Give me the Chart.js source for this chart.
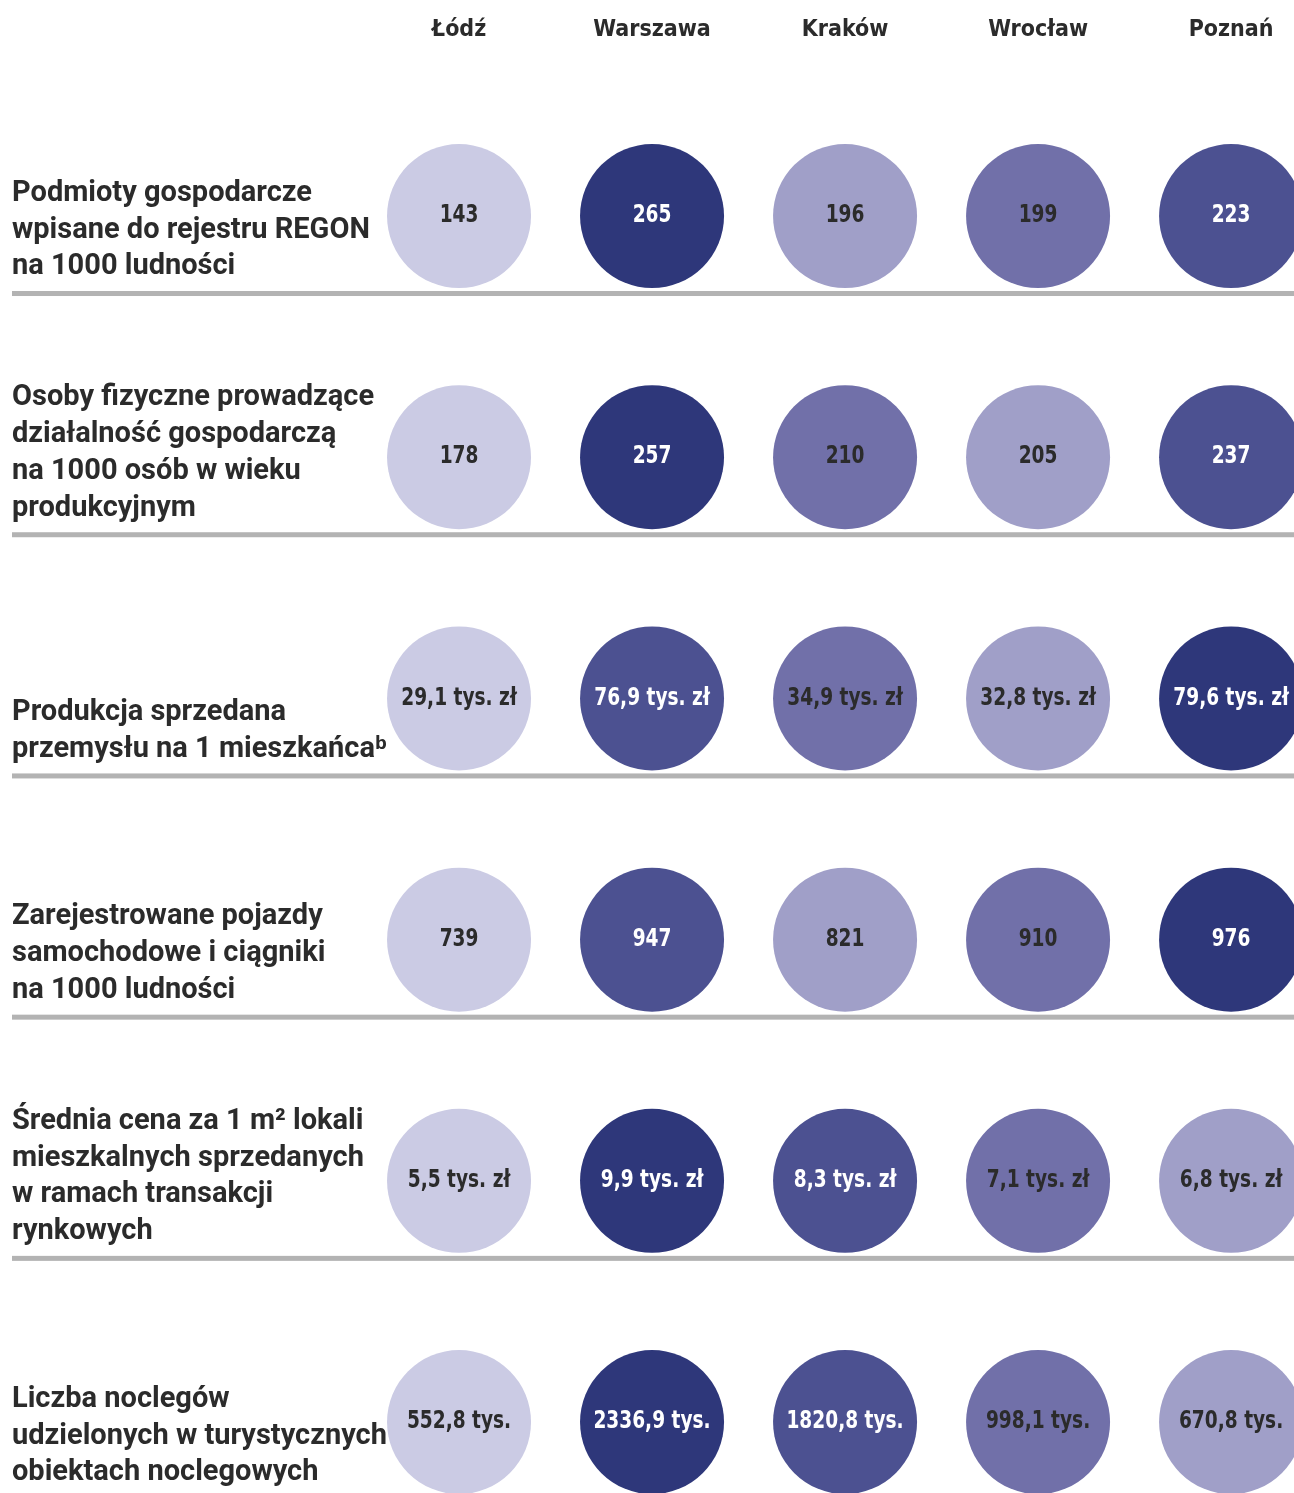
<!DOCTYPE html>
<html lang="pl">
<head>
<meta charset="utf-8">
<script src="https://cdn.jsdelivr.net/npm/chart.js@4.4.1/dist/chart.umd.min.js"></script>
<style>
  html, body { margin:0; padding:0; background:#fff; }
  #wrap { width:1294px; height:1493px; }
</style>
</head>
<body>
<div id="wrap"><canvas id="cityChart"></canvas></div>
<script>
// cities (columns) and indicators (rows)
const cities = ["Łódź", "Warszawa", "Kraków", "Wrocław", "Poznań"];

const rowLabels = [
    ["Podmioty gospodarcze", "wpisane do rejestru REGON", "na 1000 ludności"],
    ["Osoby fizyczne prowadzące", "działalność gospodarczą", "na 1000 osób w wieku", "produkcyjnym"],
    ["Produkcja sprzedana", "przemysłu na 1 mieszkańcaᵇ"],
    ["Zarejestrowane pojazdy", "samochodowe i ciągniki", "na 1000 ludności"],
    ["Średnia cena za 1 m² lokali", "mieszkalnych sprzedanych", "w ramach transakcji", "rynkowych"],
    ["Liczba noclegów", "udzielonych w turystycznych", "obiektach noclegowych"]
];

const regon = [143, 265, 196, 199, 223];
const selfEmployed = [178, 257, 210, 205, 237];
const industrySales = [29.1, 76.9, 34.9, 32.8, 79.6];
const vehicles = [739, 947, 821, 910, 976];
const flatPrice = [5.5, 9.9, 8.3, 7.1, 6.8];
const overnightStays = [552.8, 2336.9, 1820.8, 998.1, 670.8];

const rowValues = [regon, selfEmployed, industrySales, vehicles, flatPrice, overnightStays];
const units = ["", "", "tys. zł", "", "tys. zł", "tys."];
const decimals = [0, 0, 1, 0, 1, 1];

// darkest = highest in the row
const shades = ["#2e377a", "#4c5191", "#7170a9", "#a09fc8", "#cbcbe4"];
const DARK = "#2b2b2b";
const BUBBLE_R = 72;

const labelFont = "Roboto, 'Noto Sans', sans-serif";
const narrowFont = "'DejaVu Sans Condensed', 'Liberation Sans Narrow', sans-serif";

function rankOf(values, i) {
    return values.filter(v => v > values[i]).length;
}

function fmt(row, i) {
    let s = rowValues[row][i].toFixed(decimals[row]).replace(".", ",");
    return units[row] ? s + " " + units[row] : s;
}

const datasets = rowValues.map((vals, row) => ({
    label: rowLabels[row].join(" "),
    data: vals.map((v, col) => ({x: col, y: row})),
    radius: BUBBLE_R,
    backgroundColor: ctx => shades[rankOf(vals, ctx.dataIndex)],
    borderWidth: 0,
    hoverRadius: 0,
    clip: false
}));

// grey rule under each row
const rowRules = {
    id: "rowRules",
    beforeDatasetsDraw(chart) {
        const ctx = chart.ctx, y = chart.scales.y;
        ctx.save();
        ctx.fillStyle = "#b3b3b3";
        for (let i = 0; i < rowLabels.length - 1; i++) {
            const py = y.getPixelForValue(i) + BUBBLE_R + 3;
            ctx.fillRect(12, py, chart.width - 12, 5);
        }
        ctx.restore();
    }
};

// value inside each circle (condensed look via horizontal squeeze)
const bubbleText = {
    id: "bubbleText",
    afterDatasetsDraw(chart) {
        const ctx = chart.ctx;
        chart.data.datasets.forEach((ds, row) => {
            chart.getDatasetMeta(row).data.forEach((el, col) => {
                const r = rankOf(rowValues[row], col);
                ctx.save();
                ctx.translate(el.x, el.y);
                ctx.scale(0.86, 1);
                ctx.font = "bold 24px " + narrowFont;
                ctx.textAlign = "center";
                ctx.textBaseline = "middle";
                ctx.fillStyle = r < 2 ? "#ffffff" : DARK;
                ctx.fillText(fmt(row, col), 0, 0);
                ctx.restore();
            });
        });
    }
};

new Chart(document.getElementById("cityChart"), {
    type: "bubble",
    data: { datasets: datasets },
    options: {
        responsive: true,
        maintainAspectRatio: false,
        animation: false,
        events: [],
        layout: { autoPadding: false, padding: { left: 12, right: 0, top: 0, bottom: 0 } },
        plugins: {
            legend: { display: false },
            tooltip: { enabled: false }
        },
        scales: {
            x: {
                type: "linear",
                position: "top",
                min: -0.368,
                max: 4.326,
                grid: { display: false, drawTicks: false },
                border: { display: false },
                afterBuildTicks: s => { s.ticks = cities.map((c, i) => ({value: i})); },
                afterFit: s => { s.height = 95; s.paddingLeft = 0; s.paddingRight = 0; },
                ticks: {
                    padding: 51,
                    color: DARK,
                    font: { family: narrowFont, size: 23, weight: "bold" },
                    callback: (v, i) => cities[i]
                }
            },
            y: {
                type: "linear",
                reverse: true,
                min: -0.5017,
                max: 5.294,
                grid: { display: false, drawTicks: false },
                border: { display: false },
                afterBuildTicks: s => {
                    // labels sit low in each row, close to the rule
                    s.ticks = rowLabels.map((l, i) => ({value: i + (51 - (l.length - 1) * 18.35) / 241.2}));
                },
                afterFit: s => { s.width = 376; s.paddingTop = 0; s.paddingBottom = 0; },
                ticks: {
                    crossAlign: "far",
                    padding: 0,
                    color: DARK,
                    font: { family: labelFont, size: 29, weight: "bold", lineHeight: 1.27 },
                    callback: (v, i) => rowLabels[i]
                }
            }
        }
    },
    plugins: [rowRules, bubbleText]
});
</script>
</body>
</html>
